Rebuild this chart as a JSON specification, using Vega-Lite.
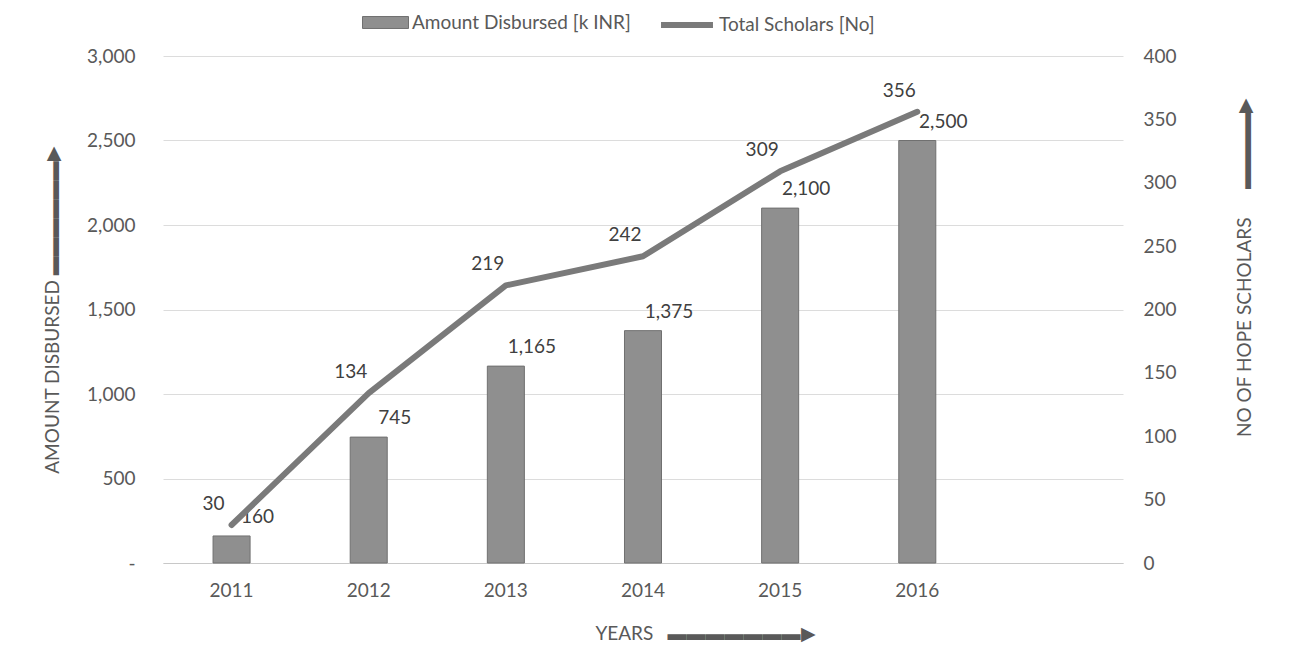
{
  "$schema": "https://vega.github.io/schema/vega-lite/v6.json",
  "width": 960,
  "height": 507,
  "autosize": {"type": "none"},
  "padding": {"left": 163, "top": 56, "right": 169, "bottom": 108},
  "background": "white",
  "config": {
    "view": {"stroke": null},
    "font": "Lato",
    "axis": {
      "labelFont": "Lato",
      "labelFontSize": 19,
      "labelColor": "#595959",
      "titleFont": "Lato",
      "titleFontSize": 19,
      "titleFontWeight": "normal",
      "titleColor": "#595959"
    },
    "legend": {
      "labelFont": "Lato",
      "labelFontSize": 19,
      "labelColor": "#595959",
      "labelLimit": 400
    }
  },
  "data": {
    "values": [
      {"year": "2011", "amount": 160, "scholars": 30},
      {"year": "2012", "amount": 745, "scholars": 134},
      {"year": "2013", "amount": 1165, "scholars": 219},
      {"year": "2014", "amount": 1375, "scholars": 242},
      {"year": "2015", "amount": 2100, "scholars": 309},
      {"year": "2016", "amount": 2500, "scholars": 356}
    ]
  },
  "encoding": {
    "x": {
      "field": "year",
      "type": "nominal",
      "sort": null,
      "scale": {
        "domain": ["2011", "2012", "2013", "2014", "2015", "2016", " "],
        "paddingInner": 0,
        "paddingOuter": 0
      },
      "axis": {
        "title": "YEARS\u2003▬▬▬▬▬▬▬▶",
        "titleX": 542,
        "titlePadding": 24,
        "labelAngle": 0,
        "labelPadding": 18,
        "ticks": false,
        "domain": true,
        "domainColor": "#c8c8c8",
        "domainWidth": 1
      }
    }
  },
  "layer": [
    {
      "layer": [
        {
          "mark": {"type": "bar", "width": {"band": 0.27}, "stroke": "#707070", "strokeWidth": 1},
          "encoding": {
            "y": {
              "field": "amount",
              "type": "quantitative",
              "scale": {"domain": [0, 3000]},
              "axis": {
                "title": "AMOUNT DISBURSED ▬▬▬▬▬▬▶",
                "titleAngle": -90,
                "titlePadding": 24,
                "values": [0, 500, 1000, 1500, 2000, 2500, 3000],
                "labelExpr": "datum.value === 0 ? '-\u00a0\u00a0' : format(datum.value, ',')",
                "labelPadding": 28,
                "ticks": false,
                "domain": false,
                "grid": true,
                "gridColor": "#dcdcdc",
                "gridWidth": 1
              }
            },
            "color": {
              "datum": "Amount Disbursed [k INR]",
              "type": "nominal",
              "scale": {"range": ["#8f8f8f"]},
              "legend": {
                "title": null,
                "orient": "none",
                "legendX": 199,
                "legendY": -57,
                "padding": 0,
                "symbolType": "M-1,-0.26H1V0.26H-1Z",
                "symbolSize": 2116,
                "symbolStrokeColor": "#707070",
                "symbolStrokeWidth": 1,
                "labelOffset": 3
              }
            }
          }
        },
        {
          "mark": {"type": "text", "dx": 26, "dy": -19, "fontSize": 19, "font": "Lato", "fill": "#404040", "baseline": "middle", "align": "center"},
          "encoding": {
            "y": {"field": "amount", "type": "quantitative"},
            "text": {"field": "amount", "type": "quantitative", "format": ","}
          }
        }
      ]
    },
    {
      "layer": [
        {
          "mark": {"type": "line", "strokeWidth": 6, "strokeCap": "round", "strokeJoin": "round"},
          "encoding": {
            "y": {
              "field": "scholars",
              "type": "quantitative",
              "scale": {"domain": [0, 400]},
              "axis": {
                "orient": "right",
                "title": "NO OF HOPE SCHOLARS\u2003\u2003▬▬▬▬▶",
                "titleAngle": -90,
                "titleY": 211,
                "titlePadding": 78,
                "values": [0, 50, 100, 150, 200, 250, 300, 350, 400],
                "labelPadding": 20,
                "ticks": false,
                "domain": false,
                "grid": false
              }
            },
            "stroke": {
              "datum": "Total Scholars [No]",
              "type": "nominal",
              "scale": {"range": ["#7a7a7a"]},
              "legend": {
                "title": null,
                "orient": "none",
                "legendX": 495,
                "legendY": -60,
                "padding": 0,
                "symbolType": "stroke",
                "symbolSize": 2700,
                "symbolStrokeWidth": 6,
                "labelOffset": 3
              }
            }
          }
        },
        {
          "mark": {"type": "text", "dx": -18, "dy": -21, "fontSize": 19, "font": "Lato", "fill": "#404040", "baseline": "middle", "align": "center"},
          "encoding": {
            "y": {"field": "scholars", "type": "quantitative"},
            "text": {"field": "scholars", "type": "quantitative"}
          }
        }
      ]
    }
  ],
  "resolve": {"scale": {"y": "independent"}}
}
